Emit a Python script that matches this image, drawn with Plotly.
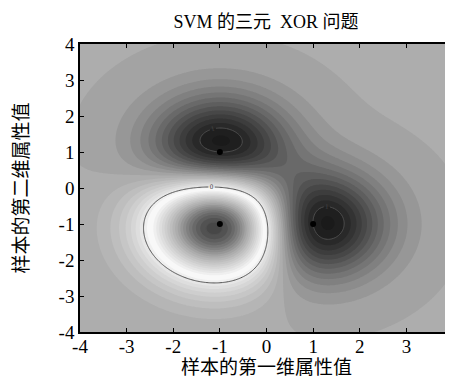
import numpy as np
import plotly.graph_objects as go

# Training samples of the three-point XOR problem
sample_x1 = [-1.0, -1.0, 1.0]
sample_x2 = [1.0, -1.0, -1.0]
sample_label = [1, -1, 1]
gamma = 0.5            # RBF kernel parameter
axis_ticks = [-4, -3, -2, -1, 0, 1, 2, 3, 4]
line_levels = [-1, 0, 1]

# --- hard-margin SVM (all three points are support vectors) ---
P = np.column_stack([sample_x1, sample_x2])
y = np.array(sample_label, dtype=float)
n = len(y)
K = np.exp(-gamma * ((P[:, None, :] - P[None, :, :]) ** 2).sum(-1))
A = np.zeros((n + 1, n + 1))
A[:n, :n] = K * y[None, :]
A[:n, n] = 1.0
A[n, :n] = y
rhs = np.concatenate([y, [0.0]])
sol = np.linalg.solve(A, rhs)
alpha, b = sol[:n], sol[n]

gx = np.linspace(-4, 4, 321)
gy = np.linspace(-4, 4, 321)
XX, YY = np.meshgrid(gx, gy)
F = np.full(XX.shape, b)
for i in range(n):
    F += alpha[i] * y[i] * np.exp(-gamma * ((XX - P[i, 0]) ** 2 + (YY - P[i, 1]) ** 2))

shade_center = -0.1
S = np.abs(F - shade_center)

serif = "Liberation Serif, Noto Sans CJK SC, serif"

fig = go.Figure()
fig.add_trace(go.Contour(
    x=gx, y=gy, z=S,
    zmin=0, zmax=1.16,
    colorscale=[[0, "rgb(252,252,252)"], [0.1, "rgb(232,232,232)"],
                [0.43, "rgb(170,170,170)"], [0.8, "rgb(72,72,72)"],
                [1, "rgb(26,26,26)"]],
    contours=dict(start=0, end=1.2, size=0.05, coloring="fill"),
    line=dict(width=0),
    showscale=False, hoverinfo="skip",
))
fig.add_trace(go.Contour(
    x=gx, y=gy, z=F,
    contours=dict(start=line_levels[0], end=line_levels[-1], size=1,
                  coloring="none", showlabels=True,
                  labelfont=dict(size=7, color="rgb(70,70,70)", family=serif)),
    line=dict(color="rgb(80,80,80)", width=1),
    showscale=False, hoverinfo="skip",
))
fig.add_trace(go.Scatter(
    x=sample_x1, y=sample_x2, mode="markers",
    marker=dict(color="black", size=6), showlegend=False,
))

axis_common = dict(
    range=[-4, 4], tickvals=axis_ticks, ticktext=[str(t) for t in axis_ticks],
    showgrid=False, zeroline=False, showline=True, mirror="ticks",
    linecolor="black", linewidth=1.5, ticks="inside", ticklen=4,
    tickcolor="black", tickfont=dict(family=serif, size=19, color="black"),
    automargin=False,
)
fig.update_layout(
    width=445, height=371,
    margin=dict(l=72, r=0, t=36, b=47),
    paper_bgcolor="white", plot_bgcolor="white",
    showlegend=False,
    title=dict(text="SVM 的三元\u00a0 XOR 问题", x=0.58, xanchor="center",
               y=0.962, yanchor="middle",
               font=dict(family=serif, size=18, color="black")),
    xaxis=dict(**axis_common, ticklabelstandoff=-4,
               title=dict(text="样本的第一维属性值", standoff=2,
                          font=dict(family=serif, size=19, color="black"))),
    yaxis=dict(**axis_common,
               title=dict(text="样本的第二维属性值", standoff=25,
                          font=dict(family=serif, size=19, color="black"))),
)
fig.write_html("out.html")
